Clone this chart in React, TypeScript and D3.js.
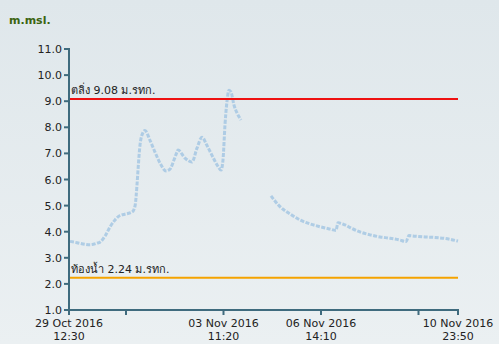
import React from "react";
import * as d3 from "d3";

const W = 499;
const H = 344;

// x positions are sample positions along the record (index axis, 0..389)
const samplePos = [
  1, 8, 14, 21, 28, 31, 36, 41, 46, 51,
  57, 63, 66, 68, 69, 71, 74, 76, 81, 86,
  91, 97, 101, 105, 108, 109, 116, 123, 128, 133,
  138, 144, 149, 152, 154, 156, 158, 160, 162, 165,
  168, 172, 186, 202, 211, 221, 231, 241, 251, 261,
  267, 269, 276, 283, 291, 301, 311, 321, 331, 337,
  340, 346, 356, 366, 376, 389,
];
const waterLevel: (number | null)[] = [
  3.63, 3.58, 3.53, 3.5, 3.56, 3.6, 3.83, 4.18, 4.45, 4.62,
  4.68, 4.75, 4.98, 5.79, 6.36, 7.32, 7.8, 7.88, 7.5, 7.05,
  6.63, 6.33, 6.4, 6.75, 7.05, 7.13, 6.82, 6.67, 7.2, 7.62,
  7.3, 6.85, 6.5, 6.36, 6.75, 8.1, 9.0, 9.42, 9.35, 8.85,
  8.55, 8.28, null, 5.37, 4.96, 4.68, 4.45, 4.3, 4.19, 4.1,
  4.05, 4.34, 4.26, 4.12, 3.99, 3.88, 3.8, 3.75, 3.68, 3.62,
  3.85, 3.83, 3.8, 3.78, 3.74, 3.64,
];

const yTicks = [1, 2, 3, 4, 5, 6, 7, 8, 9, 10, 11];
const xTickPos = [0, 57, 154.5, 252, 349.5, 389];
const xTickLabels = [
  ["29 Oct 2016", "12:30"],
  [],
  ["03 Nov 2016", "11:20"],
  ["06 Nov 2016", "14:10"],
  [],
  ["10 Nov 2016", "23:50"],
];

const bankLevel = 9.08;
const bedLevel = 2.24;
const bankLabel = "ตลิ่ง 9.08 ม.รทก.";
const bedLabel = "ท้องน้ำ 2.24 ม.รทก.";
const unitLabel = "m.msl.";

export default function App() {
  const n = Math.min(samplePos.length, waterLevel.length);
  const data = d3.range(n).map((i) => ({ x: samplePos[i], y: waterLevel[i] }));

  const x = d3.scaleLinear().domain([0, 389]).range([69, 458]);
  const y = d3.scaleLinear().domain([1, 11]).range([310, 49]);

  const line = d3
    .line<{ x: number; y: number | null }>()
    .defined((d) => d.y !== null)
    .x((d) => x(d.x))
    .y((d) => y(d.y as number))
    .curve(d3.curveMonotoneX);

  const axisColor = "#3f6b7e";
  const font = "'DejaVu Sans', Verdana, sans-serif";

  return (
    <svg
      width={W}
      height={H}
      style={{ position: "fixed", left: 0, top: 0, display: "block" }}
      fontFamily={font}
    >
      <defs>
        <linearGradient id="bg" x1="0" y1="0" x2="0" y2="1">
          <stop offset="0" stopColor="#dfe7eb" />
          <stop offset="1" stopColor="#ebf0f2" />
        </linearGradient>
      </defs>
      <rect x={0} y={0} width={W} height={H} fill="url(#bg)" />

      <text x={9} y={24} fontSize={11} fontWeight="bold" fill="#3b6410">
        {unitLabel}
      </text>

      {/* water level line */}
      <path
        d={line(data) || ""}
        fill="none"
        stroke="#a4c7e3"
        strokeWidth={3}
        strokeDasharray="4 1.5"
        strokeOpacity={0.85}
        strokeLinecap="butt"
      />

      {/* reference lines */}
      <line x1={x(0)} x2={x(389)} y1={y(bankLevel)} y2={y(bankLevel)} stroke="#ee1111" strokeWidth={2} />
      <text x={71} y={y(bankLevel) - 5} fontSize={11} fill="#222">
        {bankLabel}
      </text>
      <line x1={x(0)} x2={x(389)} y1={y(bedLevel)} y2={y(bedLevel)} stroke="#f5a300" strokeWidth={2} />
      <text x={71} y={y(bedLevel) - 5} fontSize={11} fill="#222">
        {bedLabel}
      </text>

      {/* y axis */}
      <line x1={69} x2={69} y1={y(11) - 1} y2={y(1) + 1} stroke={axisColor} strokeWidth={2} />
      {yTicks.map((t) => (
        <g key={t}>
          <line x1={64} x2={69} y1={y(t)} y2={y(t)} stroke={axisColor} strokeWidth={2} />
          <text x={62} y={y(t) + 4} fontSize={11} textAnchor="end" fill="#222">
            {t.toFixed(1)}
          </text>
        </g>
      ))}

      {/* x axis */}
      <line x1={68} x2={x(389) + 1} y1={310} y2={310} stroke={axisColor} strokeWidth={2} />
      {xTickPos.map((p, i) => (
        <g key={i}>
          <line x1={x(p)} x2={x(p)} y1={310} y2={315} stroke={axisColor} strokeWidth={2} />
          {xTickLabels[i].map((s, j) => (
            <text
              key={j}
              x={x(p)}
              y={327 + j * 13}
              fontSize={11}
              textAnchor="middle"
              fill="#222"
            >
              {s}
            </text>
          ))}
        </g>
      ))}
    </svg>
  );
}
